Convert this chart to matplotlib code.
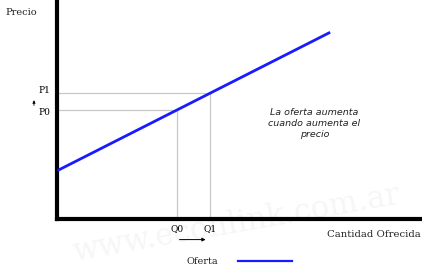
import matplotlib.pyplot as plt

# supply curve (oferta) endpoints
cantidad = [0.5, 74.5]
precio = [22.6, 85.7]

# initial and new points
q_vals = [33.0, 42.0]
p_vals = [50.2, 57.9]
q_labels = ["Q0", "Q1"]
p_labels = ["P0", "P1"]

fig = plt.figure(figsize=(4.22, 2.70), dpi=100)
ax = fig.add_axes([0.135, 0.189, 0.865, 0.804])
ax.set_xlim(0, 100)
ax.set_ylim(0, 100)
ax.patch.set_alpha(0)

serif = "DejaVu Serif"

# watermark
fig.text(0.56, 0.17, "www.econlink.com.ar", fontsize=22, family=serif,
         color="#f6f6f6", rotation=10, ha="center", va="center", zorder=-5)

# guide lines
for q, p in zip(q_vals, p_vals):
    ax.plot([0, q], [p, p], color="#c8c8c8", lw=0.9, zorder=1)
    ax.plot([q, q], [0, p], color="#c8c8c8", lw=0.9, zorder=1)

ax.plot(cantidad, precio, color="#1a1aff", lw=2, zorder=3)

for s in ["top", "right"]:
    ax.spines[s].set_visible(False)
for s in ["left", "bottom"]:
    ax.spines[s].set_linewidth(3)
ax.set_xticks([])
ax.set_yticks([])

# axis labels
fig.text(0.012, 0.952, "Precio", fontsize=7, family=serif, va="center", color="#222222")
fig.text(0.998, 0.13, "Cantidad Ofrecida", fontsize=7.3, family=serif, ha="right", va="center", color="#222222")

# P labels
ax.text(-3.4, p_vals[1] + 1.2, p_labels[1], fontsize=6.5, family=serif, ha="center", va="center")
ax.text(-3.4, p_vals[0] - 1.0, p_labels[0], fontsize=6.5, family=serif, ha="center", va="center")
ax.annotate("", xy=(-6.3, 56), xytext=(-6.3, 51),
            arrowprops=dict(arrowstyle="-|>", lw=0.6, color="black", mutation_scale=4),
            annotation_clip=False)

# Q labels
for q, lab in zip(q_vals, q_labels):
    ax.text(q, -4.5, lab, fontsize=6.5, family=serif, ha="center", va="center")
ax.annotate("", xy=(41.5, -9.5), xytext=(32.8, -9.5),
            arrowprops=dict(arrowstyle="-|>", lw=0.7, color="black", mutation_scale=5),
            annotation_clip=False)

# note
ax.text(70.5, 44, "La oferta aumenta\ncuando aumenta el\nprecio", fontsize=6.8,
        family="DejaVu Sans", style="italic", ha="center", va="center",
        linespacing=1.3, color="#222222")

# legend
fig.text(0.518, 0.033, "Oferta", fontsize=7, family=serif, ha="right", va="center", color="#222222")
fig.lines.append(plt.Line2D([0.564, 0.692], [0.033, 0.033], transform=fig.transFigure,
                            color="#1a1aff", lw=1.6))

fig.savefig("out.png", dpi=100)
